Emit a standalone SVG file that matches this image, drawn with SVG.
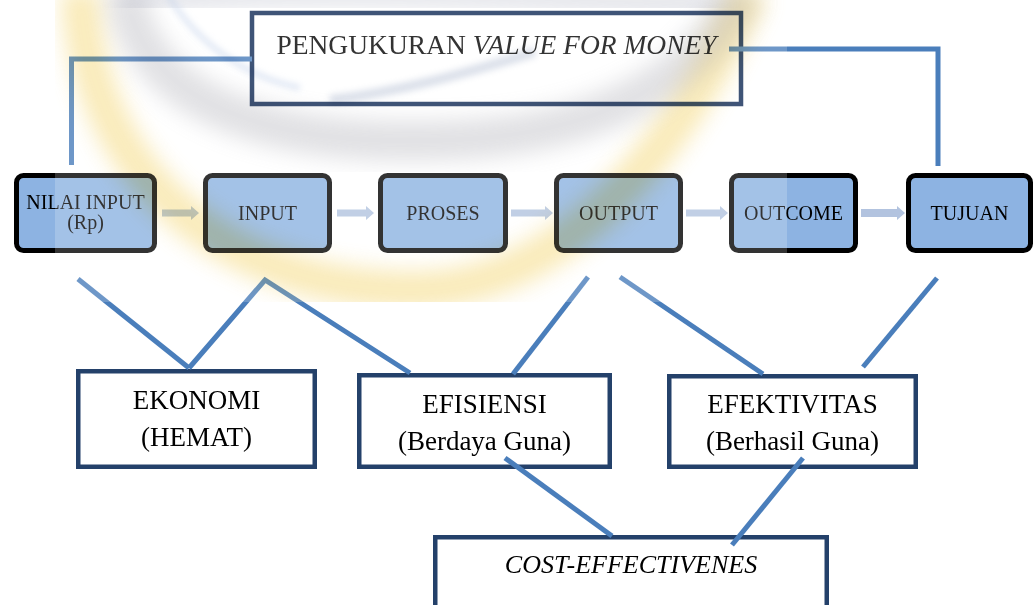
<svg xmlns="http://www.w3.org/2000/svg" width="1034" height="605" viewBox="0 0 1034 605">
  <style>
    .t { font-family: "Liberation Serif", "Times New Roman", serif; fill: #000; text-anchor: middle; }
    .flow rect { fill: #8db3e2; stroke: #000; stroke-width: 5; }
    .flow text { font-size: 20px; }
    .dim rect { fill: #ffffff; stroke: #24416a; stroke-width: 4.5; }
    .dim text { font-size: 27px; }
    .arrow { fill: #b2c3df; }
    .conn { fill: none; stroke: #4a7ebb; stroke-width: 5; stroke-linecap: butt; stroke-linejoin: miter; }
  </style>
  <defs>
    <clipPath id="wmClip"><rect x="55" y="0" width="732" height="302"/></clipPath>
    <filter id="blurL" x="-20%" y="-20%" width="140%" height="140%"><feGaussianBlur stdDeviation="11"/></filter>
    <filter id="blurS" x="-20%" y="-20%" width="140%" height="140%"><feGaussianBlur stdDeviation="3"/></filter>
  </defs>

  <rect x="0" y="0" width="1034" height="605" fill="#ffffff"/>

  <!-- top node -->
  <g id="node-vfm" class="dim">
    <rect x="252" y="13" width="489" height="91" style="stroke:#0f2a55"/>
    <text class="t" x="496.5" y="54" style="font-size:27.5px">PENGUKURAN <tspan font-style="italic">VALUE FOR MONEY</tspan></text>
  </g>

  <!-- flow nodes -->
  <g id="node-nilai-input" class="flow">
    <rect x="16.5" y="175.5" width="138" height="75" rx="7"/>
    <text class="t" x="85.5" y="209">NILAI INPUT</text>
    <text class="t" x="85.5" y="229">(Rp)</text>
  </g>
  <g id="node-input" class="flow">
    <rect x="205.5" y="175.5" width="124" height="75" rx="7"/>
    <text class="t" x="267.5" y="220">INPUT</text>
  </g>
  <g id="node-proses" class="flow">
    <rect x="380.5" y="175.5" width="125" height="75" rx="7"/>
    <text class="t" x="443" y="220">PROSES</text>
  </g>
  <g id="node-output" class="flow">
    <rect x="556.5" y="175.5" width="124" height="75" rx="7"/>
    <text class="t" x="618.5" y="220">OUTPUT</text>
  </g>
  <g id="node-outcome" class="flow">
    <rect x="731.5" y="175.5" width="124" height="75" rx="7"/>
    <text class="t" x="793.5" y="220">OUTCOME</text>
  </g>
  <g id="node-tujuan" class="flow">
    <rect x="908.5" y="175.5" width="122" height="75" rx="7"/>
    <text class="t" x="969.5" y="220">TUJUAN</text>
  </g>

  <!-- dimension nodes -->
  <g id="node-ekonomi" class="dim">
    <rect x="78.25" y="371.25" width="236.5" height="95.5"/>
    <text class="t" x="196.5" y="409">EKONOMI</text>
    <text class="t" x="196.5" y="446">(HEMAT)</text>
  </g>
  <g id="node-efisiensi" class="dim">
    <rect x="359.25" y="375.25" width="250.5" height="91.5"/>
    <text class="t" x="484.5" y="413">EFISIENSI</text>
    <text class="t" x="484.5" y="450">(Berdaya Guna)</text>
  </g>
  <g id="node-efektivitas" class="dim">
    <rect x="669.25" y="376.25" width="246.5" height="90.5"/>
    <text class="t" x="792.5" y="413">EFEKTIVITAS</text>
    <text class="t" x="792.5" y="450">(Berhasil Guna)</text>
  </g>
  <g id="node-cost" class="dim">
    <rect x="435.25" y="537.25" width="391.5" height="80"/>
    <text class="t" x="631" y="573" style="font-size:26px" font-style="italic">COST-EFFECTIVENES</text>
  </g>

  <!-- connectors -->
  <g id="connectors">
    <path class="arrow" d="M162 209.5 H191 V206 L199 213 L191 220 V216.5 H162 Z"/>
    <path class="arrow" d="M337 209.5 H366 V206 L374 213 L366 220 V216.5 H337 Z"/>
    <path class="arrow" d="M511 209.5 H545 V206 L553 213 L545 220 V216.5 H511 Z"/>
    <path class="arrow" d="M686 209.5 H720 V206 L728 213 L720 220 V216.5 H686 Z"/>
    <path class="arrow" d="M861 209 H897 V206 L905 213 L897 220 V217 H861 Z"/>

    <polyline class="conn" points="252,59 71.5,59 71.5,165"/>
    <polyline class="conn" points="729,49 938,49 938,166"/>

    <line class="conn" x1="78" y1="279" x2="189" y2="368"/>
    <polyline class="conn" points="189,368 265,280 410,373"/>
    <line class="conn" x1="588" y1="277" x2="513" y2="374"/>
    <line class="conn" x1="620" y1="277" x2="763" y2="374"/>
    <line class="conn" x1="937" y1="278" x2="863" y2="367"/>
    <line class="conn" x1="505" y1="458" x2="612" y2="536"/>
    <line class="conn" x1="803" y1="458" x2="732" y2="545"/>
  </g>

  <!-- watermark overlay -->
  <rect x="55" y="0" width="732" height="302" fill="#ffffff" opacity="0.2"/>
  <g clip-path="url(#wmClip)" style="mix-blend-mode:multiply">
    <path d="M80 -10 C85 170 220 292 420 290 C565 286 680 150 750 -10" fill="none" stroke="#f2cf5a" stroke-width="38" opacity="0.42" filter="url(#blurL)"/>
    <path d="M125 -10 C140 100 260 148 450 140 C600 135 700 80 742 -10" fill="none" stroke="#9c9ca6" stroke-width="40" opacity="0.3" filter="url(#blurL)"/>
    <path d="M120 0 C250 -10 450 -10 720 5" fill="none" stroke="#a2a6b8" stroke-width="26" opacity="0.3" filter="url(#blurL)"/>
    <path d="M168 -5 C195 40 240 75 300 88" fill="none" stroke="#c4d2ea" stroke-width="6" opacity="0.5" filter="url(#blurS)"/>
    <path d="M330 100 C400 92 470 72 535 52" fill="none" stroke="#8c9cbc" stroke-width="10" opacity="0.3" filter="url(#blurS)"/>
  </g>
</svg>
